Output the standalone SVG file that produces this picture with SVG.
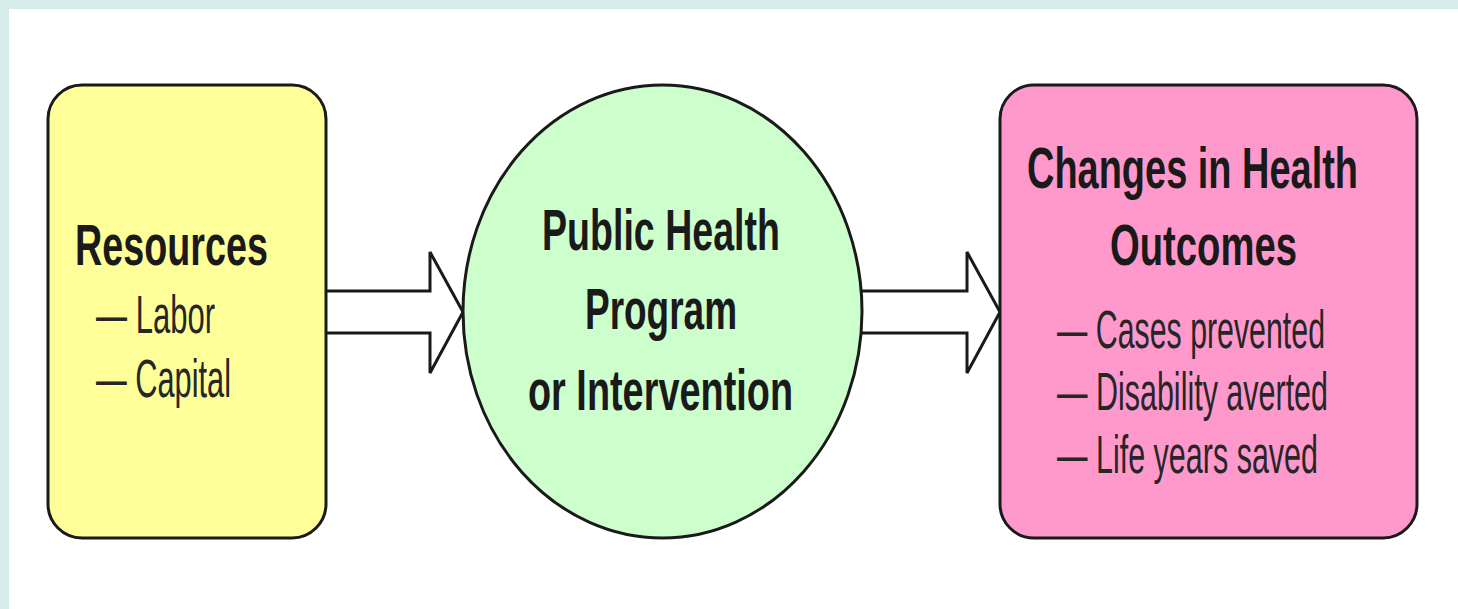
<svg xmlns="http://www.w3.org/2000/svg" width="1458" height="609" viewBox="0 0 1458 609">
  <style>
    .box { stroke: #1a1a1a; stroke-width: 3; }
    .arrow { fill: #ffffff; stroke: #1a1a1a; stroke-width: 3; stroke-linejoin: miter; }
    .title { font-family: "Liberation Sans", Arial, sans-serif; font-weight: bold; font-size: 58px; fill: #1a1a1a; }
    .item { font-family: "Liberation Sans", Arial, sans-serif; font-size: 54px; fill: #262626; }
  </style>

  <!-- frame -->
  <rect x="0" y="0" width="1458" height="609" fill="#d5ecea"/>
  <rect x="9" y="9" width="1449" height="600" fill="#ffffff"/>

  <!-- connectors: hollow block arrows -->
  <g id="connectors">
    <path class="arrow" d="M326,291 H430 V252 L463,312 L430,373 V333 H326"/>
    <path class="arrow" d="M862,291 H967 V252 L1000,312 L967,373 V333 H862"/>
  </g>

  <g id="resources">
    <rect class="box" x="48" y="85" width="278" height="453" rx="34" ry="34" fill="#ffff99"/>
    <text class="title" x="75" y="265" textLength="193" lengthAdjust="spacingAndGlyphs">Resources</text>
    <text class="item" x="96" y="333" textLength="119" lengthAdjust="spacingAndGlyphs">— Labor</text>
    <text class="item" x="96" y="397" textLength="135" lengthAdjust="spacingAndGlyphs">— Capital</text>
  </g>

  <g id="program">
    <ellipse class="box" cx="662.5" cy="311.5" rx="199.5" ry="226.5" fill="#ccffcc"/>
    <text class="title" x="542" y="250" textLength="238" lengthAdjust="spacingAndGlyphs">Public Health</text>
    <text class="title" x="585" y="329" textLength="152" lengthAdjust="spacingAndGlyphs">Program</text>
    <text class="title" x="528" y="410" textLength="265" lengthAdjust="spacingAndGlyphs">or Intervention</text>
  </g>

  <g id="outcomes">
    <rect class="box" x="1000" y="85" width="417" height="453" rx="34" ry="34" fill="#ff99cc"/>
    <text class="title" x="1027" y="188" textLength="331" lengthAdjust="spacingAndGlyphs">Changes in Health</text>
    <text class="title" x="1110" y="265" textLength="187" lengthAdjust="spacingAndGlyphs">Outcomes</text>
    <text class="item" x="1057" y="348" textLength="268" lengthAdjust="spacingAndGlyphs">— Cases prevented</text>
    <text class="item" x="1057" y="410" textLength="271" lengthAdjust="spacingAndGlyphs">— Disability averted</text>
    <text class="item" x="1057" y="473" textLength="261" lengthAdjust="spacingAndGlyphs">— Life years saved</text>
  </g>
</svg>
